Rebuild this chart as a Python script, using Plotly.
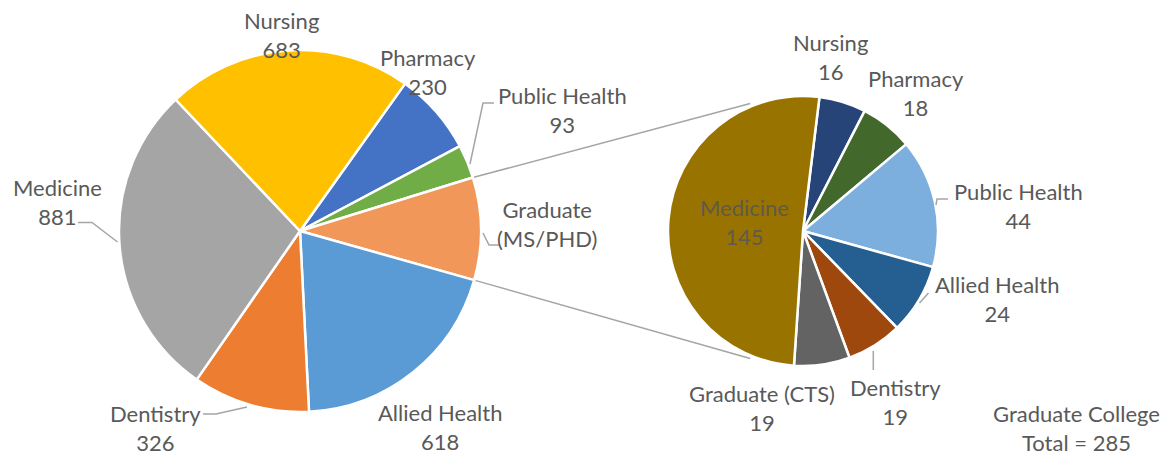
import math
import plotly.graph_objects as go

# ---------------- data ----------------
main_labels = ["Pharmacy", "Public Health", "Graduate<br>(MS/PHD)", "Allied Health", "Dentistry", "Medicine", "Nursing"]
main_values = [230, 93, 285, 618, 326, 881, 683]
main_show_value = [True, True, False, True, True, True, True]
main_colors = ["#4472C4", "#70AD47", "#F1975A", "#5B9BD5", "#ED7D31", "#A5A5A5", "#FFC000"]

grad_labels = ["Nursing", "Pharmacy", "Public Health", "Allied Health", "Dentistry", "Graduate (CTS)", "Medicine"]
grad_values = [16, 18, 44, 24, 19, 19, 145]
grad_colors = ["#264478", "#43682B", "#7CAFDD", "#255E91", "#9E480E", "#636363", "#997300"]

total_label = "Graduate College"
graduate_index = 2  # slice in main pie that is broken out

# ---------------- layout geometry (pixels) ----------------
W, H = 1166, 459
L_CX, L_CY, L_R, L_ROT = 300, 231, 181, 35.5
R_CX, R_CY, R_R, R_ROT = 803, 231, 135, 7

def px(x):
    return x / W

def py(y):
    return 1 - y / H

def dom(cx, cy, r):
    return dict(x=[px(cx - r), px(cx + r)], y=[py(cy + r), py(cy - r)])

fig = go.Figure()
fig.add_trace(go.Pie(
    labels=main_labels, values=main_values, sort=False, direction="clockwise",
    rotation=L_ROT, textinfo="none", showlegend=False,
    marker=dict(colors=main_colors, line=dict(color="white", width=2.5)),
    domain=dom(L_CX, L_CY, L_R),
))
fig.add_trace(go.Pie(
    labels=grad_labels, values=grad_values, sort=False, direction="clockwise",
    rotation=R_ROT, textinfo="none", showlegend=False,
    marker=dict(colors=grad_colors, line=dict(color="white", width=2.5)),
    domain=dom(R_CX, R_CY, R_R),
))

# ---------------- connector lines (from geometry) ----------------
tot = sum(main_values)
a0 = L_ROT + 360 * sum(main_values[:graduate_index]) / tot
a1 = a0 + 360 * main_values[graduate_index] / tot

def pt(cx, cy, r, ang):
    t = math.radians(ang)
    return cx + r * math.sin(t), cy - r * math.cos(t)

p_top = pt(L_CX, L_CY, L_R, a0)
p_bot = pt(L_CX, L_CY, L_R, a1)
q_top = pt(R_CX, R_CY, R_R + 3, -22.5)
q_bot = pt(R_CX, R_CY, R_R + 3, 202.5)

shapes = []
for (x0, y0), (x1, y1) in [(p_top, q_top), (p_bot, q_bot)]:
    shapes.append(dict(type="line", xref="paper", yref="paper",
                       x0=px(x0), y0=py(y0), x1=px(x1), y1=py(y1),
                       line=dict(color="#A5A5A5", width=1.5), layer="below"))

# leader lines (pixel polylines)
leaders = [
    [(78, 222.5), (92, 222.5), (117.5, 242)],          # Medicine
    [(470, 164), (483, 103), (494, 103)],               # Public Health
    [(483, 233), (489, 245), (499, 245)],               # Graduate (MS/PHD)
    [(203, 414), (216, 414), (247, 407)],               # Dentistry
    [(936, 205), (937, 199), (948, 199)],               # right Public Health
    [(919.5, 303), (928.5, 293)],                       # right Allied Health
    [(873.3, 351), (873.3, 370)],                       # right Dentistry
]
for pts in leaders:
    path = "M " + " L ".join(f"{px(x)},{py(y)}" for x, y in pts)
    shapes.append(dict(type="path", xref="paper", yref="paper", path=path,
                       line=dict(color="#A5A5A5", width=1.5)))

# ---------------- labels ----------------
TXT = "#595959"
FONT = "Lato"
FS = 22

main_pos = {  # label centre in pixels
    "Pharmacy": (428, 72),
    "Public Health": (562, 110),
    "Graduate<br>(MS/PHD)": (547, 224),
    "Allied Health": (440, 427),
    "Dentistry": (155, 428),
    "Medicine": (57, 202),
    "Nursing": (281, 35),
}
grad_pos = {
    "Nursing": (830, 57),
    "Pharmacy": (916, 93),
    "Public Health": (1018, 206),
    "Allied Health": (997, 299),
    "Dentistry": (895, 402),
    "Graduate (CTS)": (762, 408),
    "Medicine": (744, 222),
}

annotations = []
for lab, val, show in zip(main_labels, main_values, main_show_value):
    x, y = main_pos[lab]
    txt = f"{lab}<br>{val}" if show else lab
    annotations.append(dict(x=px(x), y=py(y), xref="paper", yref="paper",
                            text=txt, showarrow=False,
                            xanchor="center", yanchor="middle", align="center",
                            font=dict(family=FONT, size=FS, color=TXT)))
for lab, val in zip(grad_labels, grad_values):
    x, y = grad_pos[lab]
    col = "#5f5a4a" if lab == "Medicine" else TXT
    annotations.append(dict(x=px(x), y=py(y), xref="paper", yref="paper",
                            text=f"{lab}<br>{val}", showarrow=False,
                            xanchor="center", yanchor="middle", align="center",
                            font=dict(family=FONT, size=FS, color=col)))
annotations.append(dict(x=px(1076), y=py(428), xref="paper", yref="paper",
                        text=f"{total_label}<br>Total = {sum(grad_values)}",
                        showarrow=False, xanchor="center", yanchor="middle",
                        align="center", font=dict(family=FONT, size=FS, color=TXT)))

fig.update_layout(
    width=W, height=H, margin=dict(l=0, r=0, t=0, b=0),
    paper_bgcolor="white", plot_bgcolor="white",
    shapes=shapes, annotations=annotations, showlegend=False,
)

fig.write_html("out.html", config={"displayModeBar": False},
               post_script="document.body.style.margin='0';document.body.style.padding='0';")
